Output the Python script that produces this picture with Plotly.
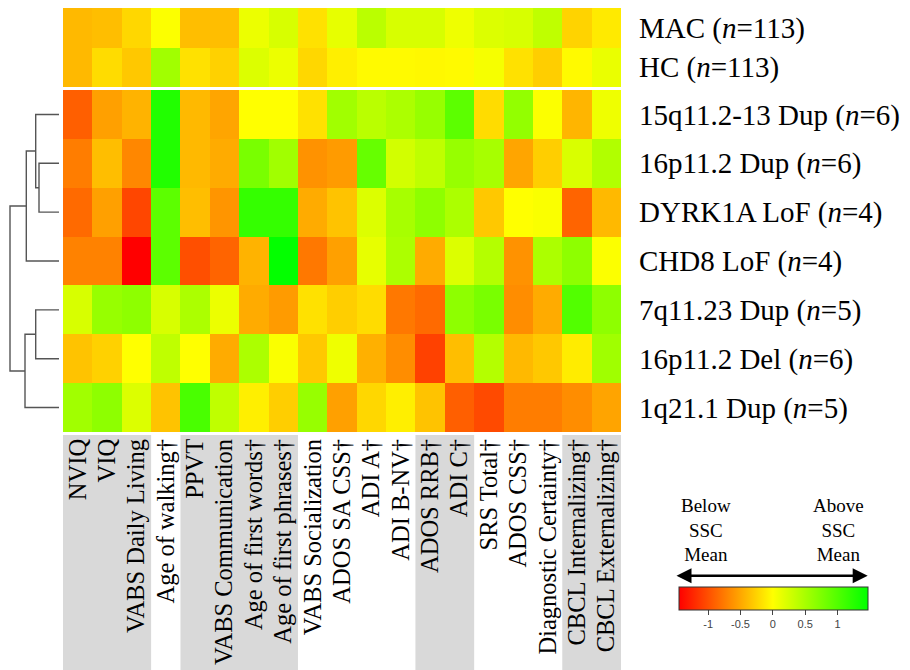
import plotly.graph_objects as go

# ---------------- data ----------------
features = ["NVIQ", "VIQ", "VABS Daily Living", "Age of walking†", "PPVT",
            "VABS Communication", "Age of first words†", "Age of first phrases†",
            "VABS Socialization", "ADOS SA CSS†", "ADI A†", "ADI B-NV†",
            "ADOS RRB†", "ADI C†", "SRS Total†", "ADOS CSS†",
            "Diagnostic Certainty†", "CBCL Internalizing†", "CBCL Externalizing†"]

reference_groups = ["MAC (<i>n</i>=113)", "HC (<i>n</i>=113)"]
genetic_groups = ["15q11.2-13 Dup (<i>n</i>=6)", "16p11.2 Dup (<i>n</i>=6)",
                  "DYRK1A LoF (<i>n</i>=4)", "CHD8 LoF (<i>n</i>=4)",
                  "7q11.23 Dup (<i>n</i>=5)", "16p11.2 Del (<i>n</i>=6)",
                  "1q21.1 Dup (<i>n</i>=5)"]

mac    = [-0.40, -0.37, -0.23, 0.02, -0.37, -0.37, 0.11, 0.23, -0.17, 0.14, 0.40, 0.23, 0.23, 0.09, 0.20, 0.23, 0.37, -0.25, -0.12]
hc     = [-0.40, -0.20, -0.31, 0.54, -0.17, -0.26, 0.20, 0.11, -0.23, -0.09, -0.03, -0.03, -0.04, -0.03, 0.05, -0.17, -0.28, -0.03, 0.12]

dup15q = [-0.91, -0.54, -0.43, 1.28, -0.40, -0.51, 0.00, 0.00, -0.17, 0.54, 0.40, 0.48, 0.60, 0.94, -0.20, 0.62, 0.02, -0.42, 0.09]
dup16p = [-0.74, -0.37, -0.68, 1.28, -0.40, -0.48, 0.77, 0.54, -0.62, -0.57, 0.88, 0.26, 0.37, 0.60, 0.51, -0.51, -0.28, 0.22, 0.45]
dyrk1a = [-0.85, -0.54, -1.05, 0.94, -0.37, -0.60, 1.17, 1.17, -0.48, -0.34, 0.20, 0.51, 0.65, 0.48, -0.31, 0.00, 0.03, -0.88, -0.40]
chd8   = [-0.71, -0.71, -1.45, 0.94, -1.00, -0.88, -0.43, 1.45, -0.77, -0.54, 0.14, 0.48, -0.48, 0.20, 0.43, -0.62, 0.48, 0.65, 0.02]
dup7q  = [0.23, 0.60, 0.65, 0.23, 0.48, 0.11, -0.48, -0.57, -0.17, -0.28, -0.20, -0.77, -0.85, 0.65, 0.77, -0.65, -0.48, 1.00, 0.65]
del16p = [-0.34, -0.26, 0.00, 0.37, 0.00, -0.48, 0.48, 0.03, -0.31, 0.09, -0.45, -0.65, -1.08, -0.37, 0.43, -0.40, -0.31, -0.11, 0.55]
dup1q  = [0.54, 0.65, 0.20, -0.34, 1.05, 0.37, -0.09, -0.28, 0.60, -0.54, -0.23, -0.09, -0.34, -0.91, -1.03, -0.74, -0.74, -0.65, -0.52]

reference_values = [mac, hc]
genetic_values = [dup15q, dup16p, dyrk1a, chd8, dup7q, del16p, dup1q]

# feature domains shown with grey background behind their labels
shaded_features = [["NVIQ", "VIQ", "VABS Daily Living"],
                   ["PPVT", "VABS Communication", "Age of first words†", "Age of first phrases†"],
                   ["ADOS RRB†", "ADI C†"],
                   ["CBCL Internalizing†", "CBCL Externalizing†"]]

# hierarchical clustering of genetic groups: [left, right, merge height]
linkage = [[1, 2, 20.0], [0, 7, 23.3], [8, 3, 32.7],
           [4, 5, 23.3], [10, 6, 34.0], [9, 11, 49.0]]

color_min, color_max = -1.45, 1.47
colorbar_tickvals = [-1, -0.5, 0, 0.5, 1]
colorbar_ticktext = ["-1", "-0.5", "0", "0.5", "1"]

# ---------------- layout helpers ----------------
W, H = 910, 670
OFF = 8  # page body margin offset
def px(x):
    return min(1.0, max(0.0, (x - OFF) / W))
def py(y):
    return min(1.0, max(0.0, 1 - (y - OFF) / H))

SERIF = "Liberation Serif"
nf = len(features)
xs_idx = list(range(nf))

zero_pos = (0 - color_min) / (color_max - color_min)
colorscale = [[0, "rgb(255,0,0)"], [zero_pos, "rgb(255,255,0)"], [1, "rgb(0,255,0)"]]

fig = go.Figure()
fig.add_trace(go.Heatmap(z=reference_values, x=xs_idx, y=list(range(len(reference_groups))),
                         coloraxis="coloraxis", xaxis="x", yaxis="y", hoverinfo="skip"))
fig.add_trace(go.Heatmap(z=genetic_values, x=xs_idx, y=list(range(len(genetic_groups))),
                         coloraxis="coloraxis", xaxis="x", yaxis="y2", hoverinfo="skip"))

# dendrogram from linkage
n = len(genetic_groups)
pos = {i: (0.0, float(i)) for i in range(n)}
dx, dy = [], []
for k, (a, b, h) in enumerate(linkage):
    ha, ya = pos[a]
    hb, yb = pos[b]
    dx += [ha, h, h, hb, None]
    dy += [ya, ya, yb, yb, None]
    pos[n + k] = (h, (ya + yb) / 2)
fig.add_trace(go.Scatter(x=dx, y=dy, mode="lines", xaxis="x2", yaxis="y3",
                         line=dict(color="#555555", width=1.4), hoverinfo="skip",
                         showlegend=False))

# grey bands behind feature labels
shapes = []
for grp in shaded_features:
    idx = [features.index(f) for f in grp]
    shapes.append(dict(type="rect", xref="x", yref="paper",
                       x0=min(idx) - 0.5, x1=max(idx) + 0.5,
                       y0=py(680), y1=py(435), fillcolor="#d9d9d9",
                       line=dict(width=0), layer="below"))

heat_x_dom = [px(63), px(621)]
fig.update_layout(
    width=W, height=H, margin=dict(l=0, r=0, t=0, b=0),
    paper_bgcolor="white", plot_bgcolor="white",
    showlegend=False,
    shapes=shapes,
    xaxis=dict(domain=heat_x_dom, anchor="y2", range=[-0.5, nf - 0.5],
               tickvals=xs_idx, ticktext=features, tickangle=-90,
               tickfont=dict(family=SERIF, size=24.5, color="black"),
               ticks="", showgrid=False, zeroline=False, showline=False,
               ticklabelstandoff=1),
    yaxis=dict(domain=[py(87), py(5)], anchor="x", range=[1.5, -0.5],
               tickvals=list(range(len(reference_groups))), ticktext=reference_groups,
               side="right", ticks="", showgrid=False, zeroline=False,
               tickfont=dict(family=SERIF, size=29, color="black"),
               ticklabelstandoff=17),
    yaxis2=dict(domain=[py(432), py(90)], anchor="x", range=[6.5, -0.5],
                tickvals=list(range(n)), ticktext=genetic_groups,
                side="right", ticks="", showgrid=False, zeroline=False,
                tickfont=dict(family=SERIF, size=29, color="black"),
                ticklabelstandoff=17),
    xaxis2=dict(domain=[0, px(63)], anchor="y3", range=[59 - OFF, -4], visible=False),
    yaxis3=dict(domain=[py(432), py(90)], anchor="x2", range=[6.5, -0.5], visible=False),
    coloraxis=dict(
        cmin=color_min, cmax=color_max, colorscale=colorscale,
        colorbar=dict(orientation="h", x=px(679), xanchor="left",
                      y=py(587), yanchor="top",
                      len=189, lenmode="pixels", thickness=23, thicknessmode="pixels",
                      xpad=0, ypad=0, outlinewidth=1, outlinecolor="#333333",
                      tickvals=colorbar_tickvals, ticktext=colorbar_ticktext,
                      ticks="outside", ticklen=5, tickcolor="#444444",
                      tickfont=dict(family="Liberation Sans", size=11, color="#444444")),
    ),
)

# legend arrow and captions
fig.add_annotation(x=px(867.7), y=py(575.7), xref="paper", yref="paper",
                   ax=-(867.7 - 675), ay=0, axref="pixel", ayref="pixel",
                   text="", showarrow=True, arrowhead=2, startarrowhead=2,
                   arrowside="end+start", arrowsize=1.2, startarrowsize=1.2,
                   arrowwidth=2.5, arrowcolor="black", standoff=0, startstandoff=0)
fig.add_annotation(x=px(705.5), y=py(530), xref="paper", yref="paper",
                   text="Below<br>SSC<br>Mean", showarrow=False, align="center",
                   xanchor="center", yanchor="middle",
                   font=dict(family=SERIF, size=19, color="black"))
fig.add_annotation(x=px(838.5), y=py(530), xref="paper", yref="paper",
                   text="Above<br>SSC<br>Mean", showarrow=False, align="center",
                   xanchor="center", yanchor="middle",
                   font=dict(family=SERIF, size=19, color="black"))

fig.write_html("out.html")
